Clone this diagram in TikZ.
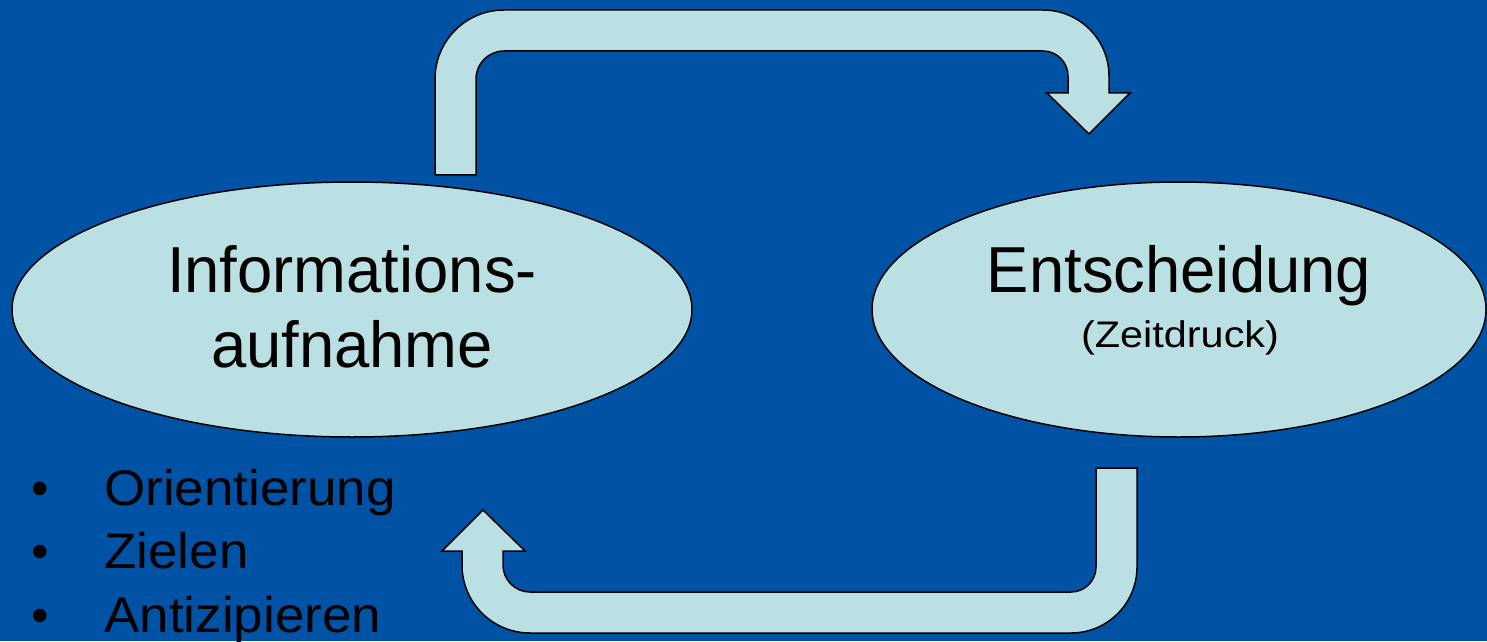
\documentclass[tikz,border=0pt]{standalone}
\usepackage{graphicx}
\usepackage{fontspec}
\setmainfont{Liberation Sans}
\usetikzlibrary{positioning, shapes.geometric}
\definecolor{bgblue}{HTML}{0052A4}
\definecolor{paleblue}{HTML}{BBE0E3}
\tikzstyle{bigtext} = [font=\fontsize{65}{75}\selectfont, anchor=base, inner sep=0pt]
\tikzstyle{smalltext} = [font=\fontsize{37}{44}\selectfont, anchor=base, inner sep=0pt]
\tikzstyle{listtext} = [font=\fontsize{50}{60}\selectfont, inner sep=0pt]
\newcommand{\wide}[2]{\scalebox{#1}[1]{#2}}

\begin{document}
\begin{tikzpicture}[x=1pt, y=1pt,
bubble/.style={ellipse, draw=black, fill=paleblue, line width=1.5pt, minimum height=255pt},
blockarrow/.style={draw=black, fill=paleblue, line width=1.5pt, line join=miter}
]
\fill[bgblue] (0,0) rectangle (1487,641);
\useasboundingbox (0,0) rectangle (1487,641);

\node[bubble, minimum width=680pt] (info) at (352,331.5) {};
\node[bubble, minimum width=614pt] (decide) at (1179,331.5) {};

\node[bigtext] (infoA) at ([yshift=17.5pt]info.center) {\wide{0.975}{Informations-}};
\node[bigtext] (infoB) at ([yshift=-57.5pt]info.center) {\wide{0.975}{aufnahme}};
\node[bigtext] (decideA) at ([yshift=17.5pt]decide.center) {\wide{0.975}{Entscheidung}};
\node[smalltext] (decideB) at ([yshift=-37.5pt,xshift=1pt]decide.center) {\wide{1.12}{(Zeitdruck)}};

% upper arrow: info -> decide
\draw[blockarrow] (435,466) -- (435,562) arc[start angle=180, end angle=90, radius=69pt]
  -- (1043,631) arc[start angle=90, end angle=0, radius=66pt]
  -- (1109,548) -- (1130,548) -- (1089,507) -- (1047,548) -- (1068,548)
  -- (1068,565) arc[start angle=0, end angle=90, radius=25pt]
  -- (504,590) arc[start angle=90, end angle=180, radius=28pt]
  -- (476,466) -- cycle;

% lower arrow: decide -> info
\draw[blockarrow] (1096,173) -- (1137,173) -- (1137,74) arc[start angle=0, end angle=-90, radius=66pt]
  -- (530,8) arc[start angle=270, end angle=180, radius=68pt]
  -- (462,90) -- (442,90) -- (483,131) -- (525,90) -- (503,90)
  -- (503,76) arc[start angle=180, end angle=270, radius=27pt]
  -- (1071,49) arc[start angle=-90, end angle=0, radius=25pt]
  -- cycle;

% list below the left bubble
\foreach \entry [count=\i] in {Orientierung, Zielen, Antizipieren} {
  \node[listtext, anchor=base west] (item\i) at (104,{136-63.5*(\i-1)}) {\wide{1.06}{\entry}};
  \node[listtext, anchor=base] (dot\i) at (40,{136-63.5*(\i-1)}) {•};
}
\end{tikzpicture}
\end{document}
